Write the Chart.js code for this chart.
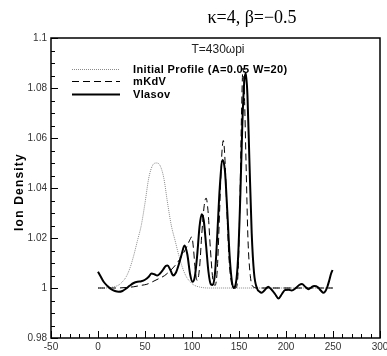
<!DOCTYPE html>
<html>
<head>
<meta charset="utf-8">
<script src="https://cdn.jsdelivr.net/npm/chart.js@4.4.1/dist/chart.umd.min.js"></script>
<style>
  html, body { margin: 0; padding: 0; background: #fff; }
  #wrap { position: relative; width: 387px; height: 356px; }
</style>
</head>
<body>
<div id="wrap"><canvas id="ionChart" width="387" height="356"></canvas></div>
<script>
/* Texts */
const titleText = 'κ=4, β=−0.5';
const timeText = 'T=430ωpi';
const yTitle = 'Ion Density';
const seriesLabels = ['Initial Profile (A=0.05 W=20)', 'mKdV', 'Vlasov'];

/* Axis ranges */
const xMin = -50, xMax = 300, xStep = 50, xMinor = 10;
const yMin = 0.98, yMax = 1.1, yStep = 0.02, yMinor = 0.005;

/* Initial profile (dotted) */
const xInit = [0, 7, 16, 22, 26, 30, 34, 38, 42, 46,
               50, 54, 58, 62, 66, 70, 74, 78, 82, 86,
               90, 94, 98, 102, 108, 117, 250];
const yInit = [1.0, 1.0, 1.0004, 1.0012, 1.0025, 1.0045, 1.008, 1.013, 1.019, 1.025,
               1.034, 1.044, 1.049, 1.05, 1.049, 1.044, 1.034, 1.025, 1.019, 1.013,
               1.008, 1.0045, 1.0025, 1.0012, 1.0004, 1.0, 1.0];

/* mKdV (dashed) */
const xMkdv = [0, 10, 20, 30, 38, 45, 52, 58, 65, 71,
               77, 82, 87, 91, 95, 98, 99.8, 101.5, 103.5, 105.5,
               108, 110.5, 113, 115, 117, 119.5, 122, 124.5, 127, 129.5,
               131.5, 133.3, 135, 137, 139.5, 142, 144.5, 146.5, 149, 151,
               152.7, 154.2, 155.7, 157.5, 159.5, 162, 165, 170, 250];
const yMkdv = [1.0, 1.0, 1.0, 1.0002, 1.0005, 1.001, 1.0015, 1.0025, 1.0038, 1.005,
               1.007, 1.009, 1.0115, 1.014, 1.017, 1.0195, 1.0205, 1.016, 1.007, 1.003,
               1.008, 1.022, 1.033, 1.036, 1.031, 1.016, 1.004, 1.001, 1.008, 1.032,
               1.052, 1.059, 1.052, 1.032, 1.011, 1.002, 1.0, 1.0, 1.006, 1.035,
               1.07, 1.088, 1.078, 1.05, 1.02, 1.005, 1.0005, 1.0, 1.0];

/* Vlasov (solid) */
const xVlasov = [0, 3, 6, 10, 14, 18, 22, 26, 30, 34,
                 38, 42, 46, 50, 54, 57, 60, 63, 66, 69,
                 72, 74, 77, 80, 83, 86, 89, 92, 95, 98,
                 100.5, 103, 105.5, 108, 110.3, 112.5, 115, 117.5, 120, 122,
                 124.5, 127, 129.5, 132.6, 135, 137.5, 140, 142, 144, 146.5,
                 149, 151.5, 153.5, 155.5, 157.2, 159, 161, 163.5, 166, 169,
                 172, 174, 177, 181, 185, 188.5, 192, 195.5, 199, 203,
                 206, 210.5, 214, 217, 220.5, 224, 227, 230, 234, 237,
                 240, 242, 244, 246, 248, 249.5];
const yVlasov = [1.0065, 1.0045, 1.0025, 1.0008, 0.9995, 0.9988, 0.9985, 0.9988, 0.9998, 1.001,
                 1.002, 1.0025, 1.0027, 1.0033, 1.0045, 1.0058, 1.0055, 1.005, 1.0058, 1.0072,
                 1.0088, 1.009, 1.0072, 1.005, 1.0062, 1.0095, 1.0135, 1.017, 1.0135, 1.0055,
                 1.0025, 1.0045, 1.013, 1.0245, 1.0295, 1.027, 1.017, 1.0065, 1.0015, 1.0012,
                 1.006, 1.022, 1.04, 1.0512, 1.047, 1.031, 1.013, 1.004, 1.0, 1.0015,
                 1.012, 1.038, 1.065, 1.082, 1.086, 1.077, 1.052, 1.022, 1.006, 1.0,
                 0.9985, 0.9981, 0.999, 1.0005, 0.9992, 0.9975, 0.9958, 0.9975, 0.9992, 0.9993,
                 0.999, 1.0, 1.0012, 1.0016, 1.0005, 0.9995, 1.0003, 1.0008, 1.0003, 0.999,
                 0.9981, 0.9988, 1.0005, 1.003, 1.0058, 1.0072];

function toPoints(xs, ys) {
    return xs.map(function(x, i) { return { x: x, y: ys[i] }; });
}

/* Frame, inward ticks, title, legend */
const decorations = {
    id: 'decorations',
    afterDraw(chart) {
        const ctx = chart.ctx;
        const a = chart.chartArea;
        const sx = chart.scales.x;
        const sy = chart.scales.y;
        ctx.save();

        // box
        ctx.strokeStyle = '#000';
        ctx.lineWidth = 1.5;
        ctx.strokeRect(a.left, a.top, a.right - a.left, a.bottom - a.top);

        // ticks
        ctx.lineWidth = 1;
        ctx.beginPath();
        const nx = Math.round((xMax - xMin) / xMinor);
        for (let i = 0; i <= nx; i++) {
            const v = xMin + i * xMinor;
            const px = Math.round(sx.getPixelForValue(v)) + 0.5;
            const len = (v % xStep === 0) ? 7 : 4;
            ctx.moveTo(px, a.bottom);
            ctx.lineTo(px, a.bottom - len);
        }
        const ny = Math.round((yMax - yMin) / yMinor);
        for (let i = 0; i <= ny; i++) {
            const v = yMin + i * yMinor;
            const py = Math.round(sy.getPixelForValue(v)) + 0.5;
            const len = (i % 4 === 0) ? 7 : 4;
            ctx.moveTo(a.left, py);
            ctx.lineTo(a.left + len, py);
        }
        ctx.stroke();

        // title
        ctx.fillStyle = '#000';
        ctx.textAlign = 'center';
        ctx.textBaseline = 'middle';
        ctx.font = '18px "Liberation Serif"';
        ctx.fillText(titleText, 252, 18);

        ctx.fillStyle = '#222';
        ctx.font = '12px "Liberation Sans"';
        ctx.fillText(timeText, 218, 50);

        // y axis title
        ctx.save();
        ctx.translate(20, 192);
        ctx.rotate(-Math.PI / 2);
        ctx.fillStyle = '#000';
        ctx.font = 'bold 12px "Liberation Sans"';
        ctx.letterSpacing = '1.2px';
        ctx.fillText(yTitle, 0, 0);
        ctx.restore();

        // legend
        ctx.textAlign = 'left';
        ctx.font = 'bold 11px "Liberation Sans"';
        ctx.letterSpacing = '0.35px';
        chart.data.datasets.forEach(function(ds, i) {
            const y = Math.floor(69 + i * 12.5) + 0.5;
            ctx.save();
            ctx.strokeStyle = ds.borderColor;
            ctx.lineWidth = ds.borderWidth;
            ctx.setLineDash(ds.borderDash || []);
            ctx.beginPath();
            ctx.moveTo(72, y);
            ctx.lineTo(120, y);
            ctx.stroke();
            ctx.restore();
            ctx.fillStyle = '#000';
            ctx.fillText(ds.label, 133, y);
        });

        ctx.restore();
    }
};

const ctx = document.getElementById('ionChart').getContext('2d');
const chart = new Chart(ctx, {
    type: 'line',
    data: {
        datasets: [{
            label: seriesLabels[0],
            data: toPoints(xInit, yInit),
            borderColor: '#8a8a8a',
            borderWidth: 1,
            borderDash: [1, 1],
            order: 3
        }, {
            label: seriesLabels[1],
            data: toPoints(xMkdv, yMkdv),
            borderColor: '#000',
            borderWidth: 1,
            borderDash: [7, 4],
            order: 2
        }, {
            label: seriesLabels[2],
            data: toPoints(xVlasov, yVlasov),
            borderColor: '#000',
            borderWidth: 2,
            order: 1
        }]
    },
    options: {
        responsive: false,
        animation: false,
        devicePixelRatio: 1,
        layout: { padding: { top: 38, right: 7, left: 0, bottom: 0 } },
        elements: {
            point: { radius: 0 },
            line: { cubicInterpolationMode: 'monotone', fill: false }
        },
        plugins: {
            legend: { display: false },
            tooltip: { enabled: false }
        },
        scales: {
            x: {
                type: 'linear',
                min: xMin,
                max: xMax,
                ticks: {
                    stepSize: xStep,
                    color: '#333',
                    padding: 3,
                    maxRotation: 0,
                    font: { family: 'Liberation Sans', size: 10 }
                },
                grid: { display: false, drawTicks: false },
                border: { display: false },
                afterFit: function(scale) {
                    scale.height = 18;
                    scale.paddingLeft = 0;
                    scale.paddingRight = 0;
                }
            },
            y: {
                type: 'linear',
                min: yMin,
                max: yMax,
                ticks: {
                    stepSize: yStep,
                    color: '#333',
                    padding: 4,
                    font: { family: 'Liberation Sans', size: 10 },
                    callback: function(v) { return String(parseFloat(v.toFixed(2))); }
                },
                grid: { display: false, drawTicks: false },
                border: { display: false },
                afterFit: function(scale) {
                    scale.width = 51;
                    scale.paddingTop = 0;
                    scale.paddingBottom = 0;
                }
            }
        }
    },
    plugins: [decorations]
});
</script>
</body>
</html>
